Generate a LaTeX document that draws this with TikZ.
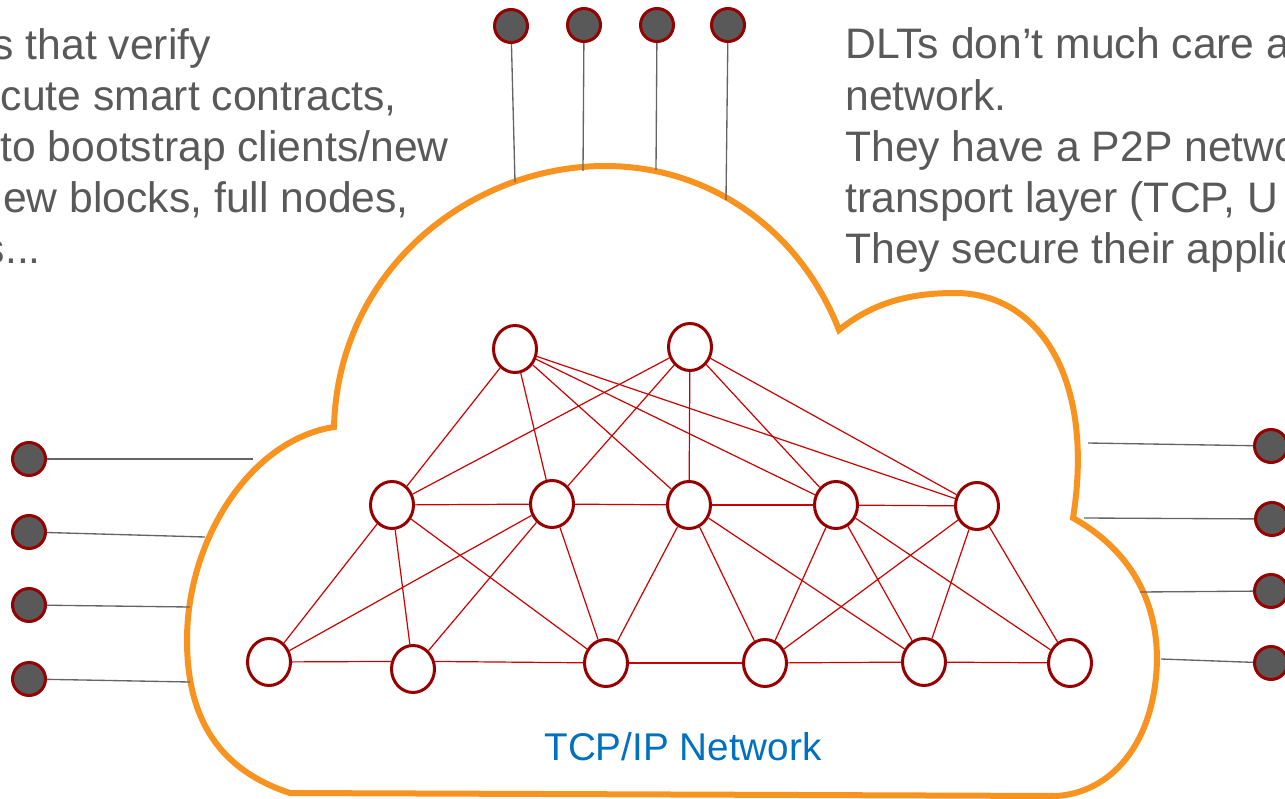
\documentclass[tikz,border=0pt]{standalone}
\usepackage{fontspec}
\setmainfont{Liberation Sans}
\usetikzlibrary{shapes.geometric}
\definecolor{cloudorange}{RGB}{247,147,30}
\definecolor{nodered}{RGB}{150,0,0}
\definecolor{linkred}{RGB}{204,0,0}
\definecolor{peergray}{RGB}{89,89,89}
\definecolor{wiregray}{RGB}{100,100,100}
\definecolor{textgray}{RGB}{89,89,89}
\definecolor{labelblue}{RGB}{0,112,192}

\begin{document}
\begin{tikzpicture}[x=0.75pt,y=-0.75pt,
  router/.style={ellipse, draw=nodered, line width=2.25pt, fill=white,
    minimum width=32.25pt, minimum height=35.25pt, inner sep=0pt},
  peer/.style={circle, draw=nodered, line width=2.25pt, fill=peergray,
    minimum size=24.75pt, inner sep=0pt},
  link/.style={draw=linkred, line width=0.9pt},
  wire/.style={draw=wiregray, line width=1pt},
  cloudline/.style={draw=cloudorange, line width=4.5pt, line join=miter},
  note/.style={text=textgray, font=\fontsize{32}{38}\selectfont, inner sep=0pt},
]
\useasboundingbox (0,0) rectangle (1285,799);
\clip (0,0) rectangle (1285,799);

% side notes
\node[note, anchor=base east] (l1) at (211,60)  {s that verify};
\node[note, anchor=base east] (l2) at (397,110) {cute smart contracts,};
\node[note, anchor=base east] (l3) at (449,161) {to bootstrap clients/new};
\node[note, anchor=base east] (l4) at (409,212) {ew blocks, full nodes,};
\node[note, anchor=base east] (l5) at (41,263)  {s...};

\node[note, anchor=base west] (r1) at (845,59)  {DLTs don’t much care a};
\node[note, anchor=base west] (r2) at (845,110) {network.};
\node[note, anchor=base west] (r3) at (845,161) {They have a P2P netwo};
\node[note, anchor=base west] (r4) at (845,212) {transport layer (TCP, U};
\node[note, anchor=base west] (r5) at (845,263) {They secure their applic};

% the cloud: four lobes joined at sharp cusps, flat bottom
\draw[cloudline]
  (290,793) .. controls (220,770) and (187,720) .. (187,640)
            .. controls (187,540) and (250,440) .. (334,427)
            .. controls (338,270) and (470,166) .. (605,166)
            .. controls (710,166) and (800,230) .. (839,330)
            .. controls (870,305) and (905,293) .. (955,293)
            .. controls (1040,293) and (1095,380) .. (1073,518)
            .. controls (1130,550) and (1157,600) .. (1157,660)
            .. controls (1155,745) and (1110,793) .. (1056,796)
  -- cycle;

% points where the outside peers touch the cloud
\coordinate (ct1) at (515,182);
\coordinate (ct2) at (583,171);
\coordinate (ct3) at (656,170);
\coordinate (ct4) at (726,200);
\coordinate (cl1) at (253,459);
\coordinate (cl2) at (205,537);
\coordinate (cl3) at (190,607);
\coordinate (cl4) at (190,682);
\coordinate (cr1) at (1088,443);
\coordinate (cr2) at (1084,518);
\coordinate (cr3) at (1140,592);
\coordinate (cr4) at (1161,659);

% outside peers
\node[peer] (pt1) at (511,26) {};
\node[peer] (pt2) at (584,25) {};
\node[peer] (pt3) at (657,25) {};
\node[peer] (pt4) at (728,25) {};
\node[peer] (pl1) at (29,459) {};
\node[peer] (pl2) at (29,532) {};
\node[peer] (pl3) at (29,605) {};
\node[peer] (pl4) at (29,679) {};
\node[peer] (pr1) at (1271,446) {};
\node[peer] (pr2) at (1272,519) {};
\node[peer] (pr3) at (1271,591) {};
\node[peer] (pr4) at (1271,663) {};

\foreach \p/\c in {pt1/ct1,pt2/ct2,pt3/ct3,pt4/ct4,pl1/cl1,pl2/cl2,pl3/cl3,pl4/cl4,pr1/cr1,pr2/cr2,pr3/cr3,pr4/cr4}
  \draw[wire] (\p) -- (\c);

% routers inside the network
\node[router] (t1) at (515,349) {};
\node[router] (t2) at (690,347) {};
\node[router] (m1) at (392,505) {};
\node[router] (m2) at (552,504) {};
\node[router] (m3) at (689,505) {};
\node[router] (m4) at (836,505) {};
\node[router] (m5) at (977,506) {};
\node[router] (b1) at (269,662) {};
\node[router] (b2) at (413,669) {};
\node[router] (b3) at (606,663) {};
\node[router] (b4) at (765,663) {};
\node[router] (b5) at (924,662) {};
\node[router] (b6) at (1070,663) {};

\foreach \a/\b in {t1/m1,t1/m2,t1/m3,t1/m4,t1/m5,
                   t2/m1,t2/m2,t2/m3,t2/m4,t2/m5,
                   m1/m2,m2/m3,m3/m4,m4/m5,
                   b3/b4,b4/b5,b5/b6,
                   m1/b1,m1/b2,m1/b3,
                   m2/b1,m2/b2,m2/b3,
                   m3/b3,m3/b4,m3/b5,
                   m4/b4,m4/b5,m4/b6,
                   m5/b4,m5/b5,m5/b6}
  \draw[link] (\a) -- (\b);
% the bottom line runs level, meeting the lower router above its centre
\draw[link] (b1) -- (b2.161);
\draw[link] (b2.19) -- (b3);

\node[text=labelblue, font=\fontsize{29}{34}\selectfont, inner sep=0pt, anchor=base] (lbl) at (683,760) {TCP/IP Network};
\end{tikzpicture}
\end{document}
